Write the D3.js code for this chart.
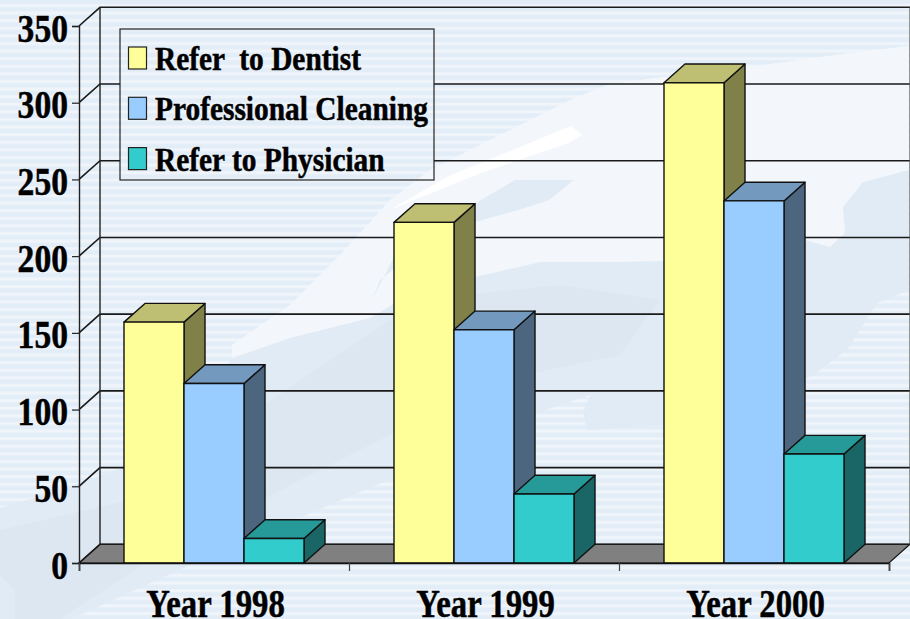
<!DOCTYPE html>
<html>
<head>
<meta charset="utf-8">
<script src="https://cdn.jsdelivr.net/npm/d3@7"></script>
<style>
html, body { margin: 0; padding: 0; background: #fff; }
svg { display: block; }
text { font-family: "Liberation Serif", "Times New Roman", serif; font-weight: bold; fill: #000; stroke: #000; stroke-width: 0.5px; white-space: pre; }
</style>
</head>
<body>
<div id="chart"></div>
<script>
// Values
const years = ["Year 1998", "Year 1999", "Year 2000"];
const seriesNames = ["Refer  to Dentist", "Professional Cleaning", "Refer to Physician"];
const dentist = [157, 222, 313];
const cleaning = [117, 152, 236];
const physician = [16, 45, 71];
const seriesValues = [dentist, cleaning, physician];
const yTicks = [0, 50, 100, 150, 200, 250, 300, 350];

// front, top and side shades per series
const frontColors = ["#ffff99", "#99ccff", "#33cccc"];
const topColors = ["#bfbf73", "#7399bf", "#269999"];
const sideColors = ["#808049", "#4d6680", "#1a6666"];

const width = 910;
const height = 619;
const depthX = 21;
const depthY = -18.7;

const svg = d3.select("#chart")
    .append("svg")
    .attr("width", width)
    .attr("height", height);

const x = d3.scaleBand().domain(years).range([79, 889]);
const xEdges = d3.scalePoint().domain(d3.range(years.length + 1)).range([79, 889]);
const xSeries = d3.scaleBand().domain(d3.range(seriesNames.length)).range([45, 225]);
const y = d3.scaleLinear().domain([0, 350]).range([563, 26]);

const defs = svg.append("defs");

// Slide background: stripes plus the soft shapes on top of them
const stripes = defs.append("pattern")
    .attr("id", "stripes")
    .attr("patternUnits", "userSpaceOnUse")
    .attr("width", 8)
    .attr("height", 7.6);
stripes.append("rect").attr("width", 8).attr("height", 7.6).attr("fill", "#e3edf7");
stripes.append("rect").attr("y", 4).attr("width", 8).attr("height", 3).attr("fill", "#f0f5fb");

const background = defs.append("g").attr("id", "bg");
background.append("rect").attr("width", width).attr("height", height).attr("fill", "url(#stripes)");

const blob = d3.line().curve(d3.curveLinearClosed);
const shapes = [
    { fill: "#f3f7fc", pts: [[909,46],[850,53],[770,64],[700,72],[610,84],[570,100],[500,135],[430,170],[390,200],[340,255],[290,305],[232,345],[232,358],[400,358],[600,400],[909,290]] },
    { fill: "#e1ebf5", pts: [[0,508],[60,490],[130,465],[190,420],[232,358],[290,338],[370,318],[400,300],[475,277],[540,262],[620,262],[700,260],[780,235],[805,240],[830,247],[845,233],[843,207],[863,182],[909,170],[909,290],[877,303],[847,350],[813,375],[760,400],[665,425],[587,430],[583,413],[590,395],[537,413],[388,480],[311,513],[186,567],[71,619],[0,619]] },
    { fill: "#e1ebf5", pts: [[481,200],[515,180],[574,180],[549,200],[525,208],[475,222],[400,245],[372,300],[380,280]] },
    { fill: "#dde7f1", pts: [[0,530],[130,500],[300,380],[420,300],[560,285],[660,300],[620,355],[500,380],[300,480],[150,560],[60,619],[15,619],[15,590],[0,575]] },
    { fill: "#ffffff", pts: [[571,126],[582,135],[569,143],[542,152],[481,173],[414,200],[390,210],[447,177]] }
];
shapes.forEach(s => {
    background.append("path").attr("d", blob(s.pts)).attr("fill", s.fill);
});

svg.append("use").attr("href", "#bg");

// Chart walls
const wall = svg.append("g");
const left = x.range()[0];
const right = x.range()[1];

wall.append("path")
    .attr("d", blob([[left, y(0)], [left + depthX, y(0) + depthY], [right + depthX, y(0) + depthY], [right, y(0)]]))
    .attr("fill", "#808080")
    .attr("stroke", "#111")
    .attr("stroke-width", 1.2);

// Gridlines on the back wall and their returns on the side wall
wall.selectAll(".grid")
    .data(yTicks)
    .enter()
    .append("path")
    .attr("class", "grid")
    .attr("fill", "none")
    .attr("stroke", "#1a1a1a")
    .attr("stroke-width", 1.6)
    .attr("d", d => `M${left},${y(d)}L${left + depthX},${y(d) + depthY}L${right + depthX},${y(d) + depthY}`);

wall.append("line")
    .attr("x1", left + depthX).attr("x2", left + depthX)
    .attr("y1", y(350) + depthY).attr("y2", y(0) + depthY)
    .attr("stroke", "#222").attr("stroke-width", 1.4);

wall.append("line")
    .attr("x1", right + depthX).attr("x2", right + depthX)
    .attr("y1", y(350) + depthY).attr("y2", y(0) + depthY)
    .attr("stroke", "#555").attr("stroke-width", 1.2);

// Bars, left to right so each front covers the previous side face
const groups = svg.selectAll(".year")
    .data(years)
    .enter()
    .append("g")
    .attr("class", "year")
    .attr("transform", d => `translate(${x(d)},0)`);

groups.each(function(year, yearIndex) {
    const group = d3.select(this);
    seriesValues.forEach((values, s) => {
        const x0 = xSeries(s);
        const x1 = x0 + xSeries.bandwidth();
        const top = y(values[yearIndex]);
        const base = y(0);
        const bar = group.append("g")
            .attr("stroke", "#111")
            .attr("stroke-width", 1.4)
            .attr("stroke-linejoin", "round");
        bar.append("path")
            .attr("fill", sideColors[s])
            .attr("d", blob([[x1, top], [x1 + depthX, top + depthY], [x1 + depthX, base + depthY], [x1, base]]));
        bar.append("path")
            .attr("fill", topColors[s])
            .attr("d", blob([[x0, top], [x0 + depthX, top + depthY], [x1 + depthX, top + depthY], [x1, top]]));
        bar.append("rect")
            .attr("x", x0)
            .attr("y", top)
            .attr("width", x1 - x0)
            .attr("height", base - top)
            .attr("fill", frontColors[s]);
    });
});

// Axes
const yAxis = svg.append("g")
    .attr("transform", `translate(${left},0)`)
    .call(d3.axisLeft(y).tickValues(yTicks).tickSize(7).tickPadding(0));
yAxis.select(".domain").attr("stroke", "#222").attr("stroke-width", 1.4);
yAxis.selectAll(".tick line").attr("stroke", "#222").attr("stroke-width", 1.2);
yAxis.selectAll(".tick text")
    .attr("x", null)
    .attr("dy", null)
    .attr("text-anchor", "end")
    .attr("transform", "translate(-11,15) scale(0.84,1)")
    .style("font-size", "40px");

const xTickAxis = svg.append("g")
    .attr("transform", `translate(0,${y(0)})`)
    .call(d3.axisBottom(xEdges).tickSize(8).tickFormat(""));
xTickAxis.select(".domain").attr("stroke", "#111").attr("stroke-width", 1.6);
xTickAxis.selectAll(".tick line").attr("stroke", "#444").attr("stroke-width", 1.2);

const xAxis = svg.append("g")
    .attr("transform", `translate(0,${y(0)})`)
    .call(d3.axisBottom(x).tickSize(0));
xAxis.select(".domain").remove();
xAxis.selectAll(".tick text")
    .attr("y", null)
    .attr("dy", null)
    .attr("transform", "translate(1.5,54) scale(0.84,1)")
    .style("font-size", "39px");

// Legend box shows the background through it, gridlines are hidden
defs.append("clipPath").attr("id", "legend-clip")
    .append("rect").attr("x", 120).attr("y", 29).attr("width", 314).attr("height", 151);
svg.append("use").attr("href", "#bg").attr("clip-path", "url(#legend-clip)");

const legend = svg.append("g");
legend.append("rect")
    .attr("x", 120).attr("y", 29).attr("width", 314).attr("height", 151)
    .attr("fill", "none").attr("stroke", "#222").attr("stroke-width", 1.2);

seriesNames.forEach((name, i) => {
    const row = legend.append("g").attr("transform", `translate(0,${i * 50.3})`);
    row.append("rect")
        .attr("x", 128.5).attr("y", 47).attr("width", 18).attr("height", 22)
        .attr("fill", frontColors[i]).attr("stroke", "#222").attr("stroke-width", 1.2);
    row.append("text")
        .attr("transform", "translate(155,70) scale(0.865,1)")
        .style("font-size", "34px")
        .text(name);
});
</script>
</body>
</html>
